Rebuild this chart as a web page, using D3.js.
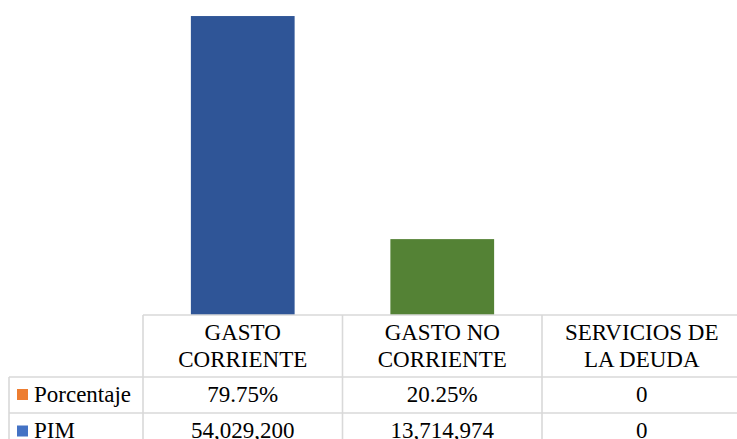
<!DOCTYPE html>
<html>
<head>
<meta charset="utf-8">
<script src="https://cdn.jsdelivr.net/npm/d3@7"></script>
<style>
  html, body { margin: 0; padding: 0; background: #fff; }
  svg { display: block; }
  svg text { font-family: "Liberation Serif" !important; }
</style>
</head>
<body>
<svg id="chart" width="737" height="439"></svg>
<script>
// Budget by spending category
const categories = [["GASTO", "CORRIENTE"], ["GASTO NO", "CORRIENTE"], ["SERVICIOS DE", "LA DEUDA"]];
const categoryKeys = ["GASTO CORRIENTE", "GASTO NO CORRIENTE", "SERVICIOS DE LA DEUDA"];
const pimValues = [54029200, 13714974, 0];
const percentValues = [79.75, 20.25, 0];
const seriesNames = ["Porcentaje", "PIM"];
const barColors = ["#2F5597", "#548235", "#A5A5A5"];
const seriesColors = ["#ED7D31", "#4472C4"];

const svg = d3.select("#chart");

// Plot area
const plotLeft = 143, colWidth = 199.5;
const baseline = 315;
const x = d3.scaleBand()
  .domain(categoryKeys)
  .range([plotLeft, plotLeft + colWidth * categoryKeys.length])
  .paddingInner(0).paddingOuter(0);

const y = d3.scaleLinear()
  .domain([0, 60000000])
  .range([baseline, baseline - 332]);

const barW = x.bandwidth() * 0.52;

// Data table below the bars
const gridColor = "#d9d9d9";
const headerBottom = 377, row1Bottom = 413, row2Bottom = 449;
const tableLeft = 9;
const tableRight = plotLeft + colWidth * categoryKeys.length;
const fs = 23;

function label(g, tx, ty, str, anchor) {
  return g.append("text")
    .attr("x", tx).attr("y", ty)
    .style("font", fs + "px 'Liberation Serif'")
    .attr("fill", "#000")
    .attr("text-anchor", anchor || "middle")
    .text(str);
}

// header labels
const header = svg.append("g");
categories.forEach((lines, i) => {
  const cx = x(categoryKeys[i]) + x.bandwidth() / 2;
  lines.forEach((ln, j) => label(header, cx, 340 + j * 26.7, ln));
});

// row labels with legend keys
const rowBaselines = [401.5, 438];
const rowG = svg.append("g");
seriesNames.forEach((name, r) => {
  label(rowG, 34, rowBaselines[r], name, "start");
});

// cell values
const fmtPct = v => v === 0 ? "0" : v.toFixed(2) + "%";
const fmtNum = d3.format(",");
const rows = [percentValues.map(fmtPct), pimValues.map(fmtNum)];
const cells = svg.append("g");
rows.forEach((vals, r) => {
  vals.forEach((v, i) => {
    label(cells, x(categoryKeys[i]) + x.bandwidth() / 2, rowBaselines[r], v);
  });
});

// legend keys
seriesNames.forEach((name, r) => {
  svg.append("rect")
    .attr("x", 17).attr("y", rowBaselines[r] - 12.5)
    .attr("width", 11).attr("height", 11)
    .attr("fill", seriesColors[r]);
});

// bars
svg.append("g").selectAll("rect")
  .data(pimValues)
  .join("rect")
  .attr("x", (d, i) => x(categoryKeys[i]) + (x.bandwidth() - barW) / 2)
  .attr("y", d => y(d))
  .attr("width", barW)
  .attr("height", d => baseline - y(d))
  .attr("fill", (d, i) => barColors[i]);

// table rules
const grid = svg.append("g")
  .attr("stroke", gridColor)
  .attr("stroke-width", 1.6)
  .attr("fill", "none");
grid.append("line").attr("x1", plotLeft).attr("x2", tableRight).attr("y1", baseline).attr("y2", baseline);
[headerBottom, row1Bottom].forEach(yy =>
  grid.append("line").attr("x1", tableLeft).attr("x2", tableRight).attr("y1", yy).attr("y2", yy));
grid.append("line").attr("x1", tableLeft).attr("x2", tableLeft).attr("y1", headerBottom).attr("y2", row2Bottom);
categoryKeys.forEach(k => {
  grid.append("line").attr("x1", x(k)).attr("x2", x(k)).attr("y1", baseline).attr("y2", row2Bottom);
});
grid.append("line").attr("x1", tableRight).attr("x2", tableRight).attr("y1", baseline).attr("y2", row2Bottom);
</script>
</body>
</html>
